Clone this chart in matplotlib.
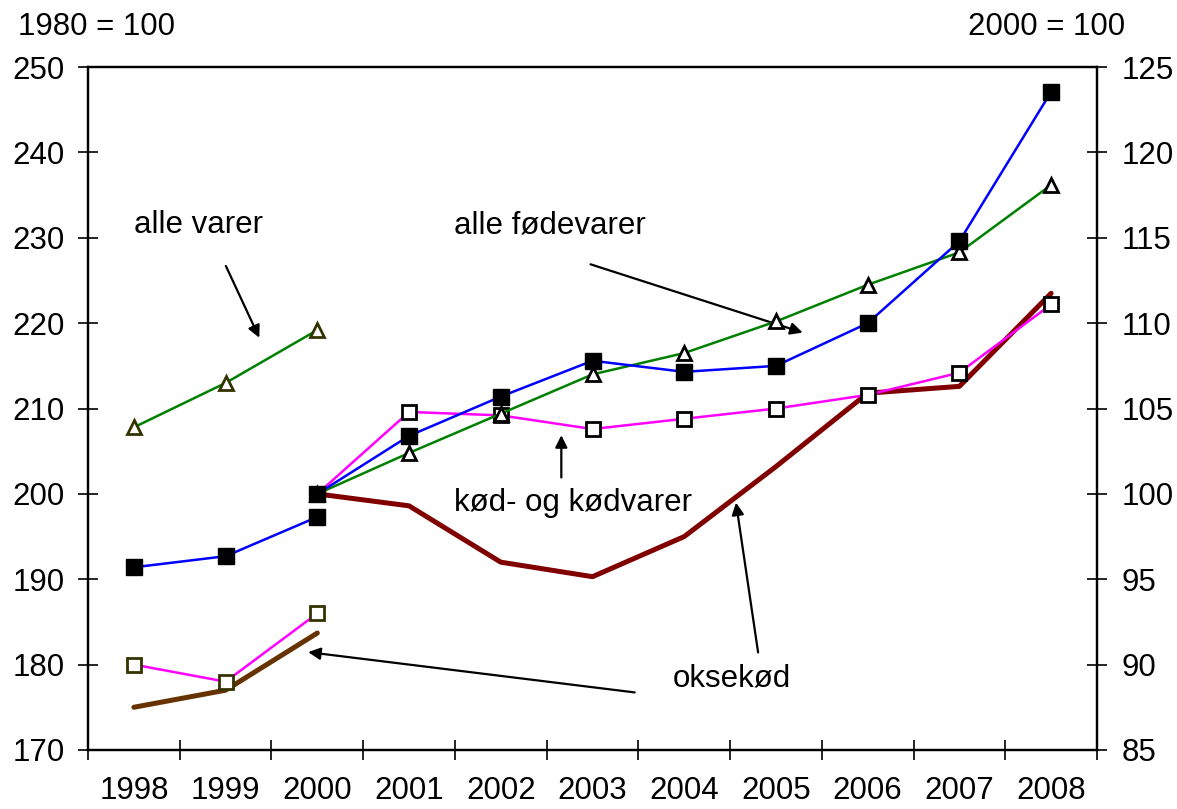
import matplotlib
matplotlib.use("Agg")
import matplotlib.pyplot as plt

plt.rcParams['font.family'] = ['Liberation Sans', 'DejaVu Sans']

years = ["1998", "1999", "2000", "2001", "2002", "2003", "2004", "2005", "2006", "2007", "2008"]

# 1998-2000, 1980 = 100 (left axis)
alle_varer_old = [207.8, 213.0, 219.2]
alle_fode_old = [191.4, 192.7, 197.3]
kod_old = [180.0, 178.0, 186.0]
okse_old = [175.0, 177.0, 183.7]

# 2000-2008, 2000 = 100 (right axis)
alle_varer_new = [100, 102.4, 104.7, 107.0, 108.25, 110.1, 112.25, 114.15, 118.1]
alle_fode_new = [100, 103.4, 105.7, 107.8, 107.15, 107.5, 110.0, 114.8, 123.55]
kod_new = [100, 104.8, 104.6, 103.8, 104.4, 105.0, 105.8, 107.1, 111.1]
okse_new = [100, 99.3, 96.0, 95.15, 97.5, 101.6, 105.9, 106.3, 111.75]

x_old = list(range(0, 3))
x_new = list(range(2, 11))

fs = 22.5

fig = plt.figure(figsize=(11.77, 8.09), dpi=100)
ax = fig.add_axes([0.0748, 0.073, 0.932 - 0.0748, 0.917 - 0.073])
ax2 = ax.twinx()

ax.plot(x_old, okse_old, color="#663300", lw=3.6, solid_capstyle='round', zorder=2)
ax.plot(x_old, kod_old, color="#ff00ff", lw=1.8, marker='s', ms=10, mfc='white',
        mec='#333300', mew=2, zorder=3)
ax.plot(x_old, alle_fode_old, color="#0000ff", lw=1.8, marker='s', ms=11, mfc='black',
        mec='black', zorder=3)
ax.plot(x_old, alle_varer_old, color="#008000", lw=1.8, marker='^', ms=10, mfc='white',
        mec='#333300', mew=2, zorder=3)

ax2.plot(x_new, okse_new, color="#800000", lw=3.6, solid_capstyle='round', zorder=2)
ax2.plot(x_new, kod_new, color="#ff00ff", lw=1.8, marker='s', ms=10, mfc='white',
         mec='black', mew=2, zorder=3)
ax2.plot(x_new, alle_varer_new, color="#008000", lw=1.8, marker='^', ms=10, mfc='white',
         mec='black', mew=2, zorder=3)
ax2.plot(x_new, alle_fode_new, color="#0000ff", lw=1.8, marker='s', ms=11, mfc='black',
         mec='black', zorder=4)

ax.set_xlim(-0.5, 10.5)
ax.set_ylim(170, 250)
ax2.set_ylim(85, 125)
ax.set_yticks(range(170, 251, 10))
ax2.set_yticks(range(85, 126, 5))

ax.set_xticks([i - 0.5 for i in range(12)])
ax.set_xticklabels([])
ax.set_xticks(range(11), minor=True)
ax.set_xticklabels(years, minor=True)
ax.tick_params(axis='x', which='major', direction='inout', length=14, width=1.2)
ax.tick_params(axis='x', which='minor', length=0, pad=19, labelsize=fs)
ax.tick_params(axis='y', direction='inout', length=14, width=1.2, labelsize=fs, pad=10)
ax2.tick_params(axis='y', direction='inout', length=14, width=1.2, labelsize=fs, pad=11)

for a in (ax, ax2):
    for s in a.spines.values():
        s.set_linewidth(1.6)

fig.text(18 / 1177, 1 - 27 / 809, "1980 = 100", fontsize=fs, va='center', ha='left')
fig.text(1125 / 1177, 1 - 27 / 809, "2000 = 100", fontsize=fs, va='center', ha='right')

arrow = dict(arrowstyle='-|>', color='black', lw=1.6, mutation_scale=18)
ax.text(0.70, 231.5, "alle varer", fontsize=fs, ha='center', va='center')
ax.annotate("", xy=(1.38, 218.0), xytext=(0.99, 227.0), arrowprops=arrow)
ax.text(4.53, 231.5, "alle fødevarer", fontsize=fs, ha='center', va='center')
ax.annotate("", xy=(7.32, 218.8), xytext=(4.95, 227.0), arrowprops=arrow)
ax.text(4.79, 198.9, "kød- og kødvarer", fontsize=fs, ha='center', va='center')
ax.annotate("", xy=(4.66, 207.2), xytext=(4.66, 201.6), arrowprops=arrow)
ax.text(6.52, 178.4, "oksekød", fontsize=fs, ha='center', va='center')
ax.annotate("", xy=(1.87, 181.5), xytext=(5.49, 176.7), arrowprops=arrow)
ax.annotate("", xy=(6.56, 199.3), xytext=(6.81, 181.1), arrowprops=arrow)

fig.savefig("out.png", dpi=100)
